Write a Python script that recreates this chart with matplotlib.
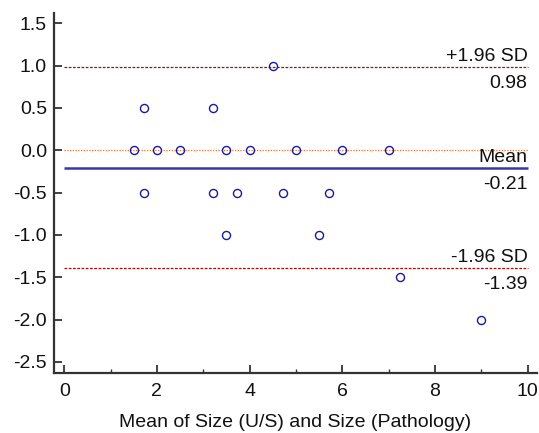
import matplotlib
matplotlib.use("Agg")
import matplotlib.pyplot as plt
from matplotlib.ticker import MultipleLocator

plt.rcParams['font.family'] = ['Liberation Sans', 'DejaVu Sans']

# Data (mean of methods, difference)
mean_vals = [1.72, 3.21, 4.5,
             1.5, 2.0, 2.5, 3.5, 4.0, 5.0, 6.0, 7.0,
             1.72, 3.21, 3.73, 4.72, 5.71,
             3.5, 5.5,
             7.24,
             9.0]
diff_vals = [0.5, 0.5, 1.0,
             0.0, 0.0, 0.0, 0.0, 0.0, 0.0, 0.0, 0.0,
             -0.5, -0.5, -0.5, -0.5, -0.5,
             -1.0, -1.0,
             -1.5,
             -2.0]
mean_diff = -0.21
upper_loa = 0.98
lower_loa = -1.39
x_label = "Mean of Size (U/S) and Size (Pathology)"

fig = plt.figure(figsize=(5.39, 4.33), dpi=100)
ax = fig.add_axes([0.1002, 0.1386, 0.8958, 0.8314])

x0, x1 = 0, 10
ax.hlines(0.0, x0, x1, colors='#f07030', linestyles=(0, (1, 1.2)), linewidth=0.9, zorder=1)
ax.hlines(mean_diff, x0, x1, colors='#3838a8', linestyles='-', linewidth=1.8, zorder=1)
ax.hlines([upper_loa, lower_loa], x0, x1, colors='#a01010', linestyles=(0, (2.2, 1.2)), linewidth=0.9, zorder=1)

ax.plot(mean_vals, diff_vals, linestyle='none', marker='o', markersize=5.8,
        markerfacecolor='none', markeredgecolor='#1a1aa0', markeredgewidth=1.0, zorder=3)

fs = 14
above, below = 0.07, 0.245
for val, name in [(upper_loa, "+1.96 SD"), (mean_diff, "Mean"), (lower_loa, "-1.96 SD")]:
    ax.text(x1, val + above, name, ha='right', va='baseline', fontsize=fs, color='#111111')
    ax.text(x1, val - below, f"{val:.2f}", ha='right', va='baseline', fontsize=fs, color='#111111')

ax.set_xlim(-0.22, 10.2)
ax.set_ylim(-2.63, 1.62)
ax.xaxis.set_minor_locator(MultipleLocator(1))
ax.yaxis.set_major_formatter(matplotlib.ticker.FormatStrFormatter('%.1f'))
ax.set_yticks([-2.5, -2.0, -1.5, -1.0, -0.5, 0.0, 0.5, 1.0, 1.5])
ax.set_xticks([0, 2, 4, 6, 8, 10])

for s in ['top', 'right']:
    ax.spines[s].set_visible(False)
for s in ['left', 'bottom']:
    ax.spines[s].set_linewidth(1.6)
    ax.spines[s].set_color('#333333')

ax.tick_params(axis='both', which='major', direction='in', length=6, width=1.3,
               color='#333333', labelsize=fs, labelcolor='#111111')
ax.tick_params(axis='y', which='major', pad=5)
ax.tick_params(axis='x', which='major', pad=7)
ax.tick_params(axis='x', which='minor', direction='in', length=3, width=1.0, color='#333333')
ax.set_xlabel(x_label, fontsize=fs, labelpad=10, color='#111111')

fig.savefig("out.png", dpi=100)
